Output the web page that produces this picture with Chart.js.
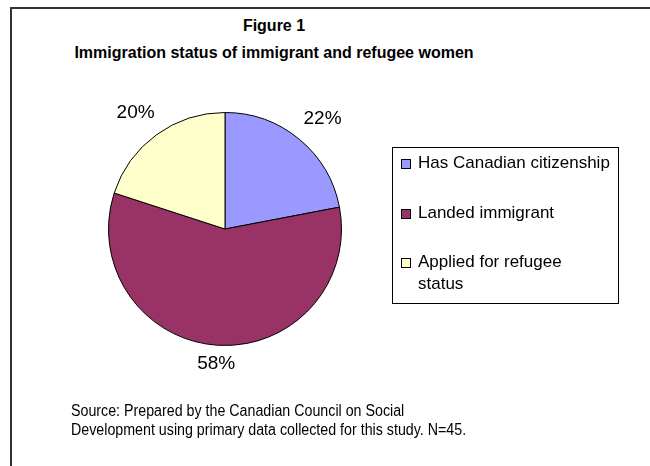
<!DOCTYPE html>
<html>
<head>
<meta charset="utf-8">
<script src="https://cdn.jsdelivr.net/npm/chart.js@4.4.1/dist/chart.umd.min.js"></script>
<style>
  body { margin: 0; background: #fff; font-family: "Liberation Sans", Arial, sans-serif; }
  #wrap { position: relative; width: 650px; height: 466px; overflow: hidden; }
  #frame { position: absolute; left: 10px; top: 7px; width: 700px; height: 500px;
           border-left: 2px solid #333; border-top: 2px solid #333; }
  #title { position: absolute; left: 0; width: 548px; top: 12px; text-align: center;
           font-weight: bold; font-size: 16px; line-height: 27px; }
  #legend { position: absolute; left: 392px; top: 147px; width: 225px; height: 155px;
            border: 1px solid #000; font-size: 17px; }
  .item { position: absolute; left: 25px; width: 185px; line-height: 22px; }
  .sq { position: absolute; left: -17px; top: 7px; width: 8px; height: 8px; border: 1px solid #000; }
  #source { position: absolute; left: 71px; top: 401px; font-size: 16px; line-height: 19px;
            transform: scaleX(0.89); transform-origin: left top; white-space: nowrap; }
  canvas { position: absolute; left: 0; top: 0; }
</style>
</head>
<body>
<div id="wrap">
  <div id="frame"></div>
  <div id="title">Figure 1<br>Immigration status of immigrant and refugee women</div>
  <canvas id="ourChart" width="650" height="466"></canvas>
  <div id="legend"></div>
  <div id="source">Source: Prepared by the Canadian Council on Social<br>Development using primary data collected for this study. N=45.</div>
</div>
<script>
const categories = ['Has Canadian citizenship', 'Landed immigrant', 'Applied for refugee status'];
const shares = [22, 58, 20];
const colours = ['#9999ff', '#993366', '#ffffcc'];

// legend rows, text tops inside the box
const legendTops = [4, 54, 103];
let legendBox = document.getElementById('legend');
categories.forEach((name, i) => {
    let row = document.createElement('div');
    row.className = 'item';
    row.style.top = legendTops[i] + 'px';
    if (i === 0) row.style.whiteSpace = 'nowrap';
    row.innerHTML = '<span class="sq" style="background:' + colours[i] + '"></span>' + name;
    legendBox.appendChild(row);
});

// percentage labels just outside each slice
const outsideLabels = {
    id: 'outsideLabels',
    afterDatasetsDraw(chart) {
        const ctx = chart.ctx;
        const meta = chart.getDatasetMeta(0);
        ctx.save();
        ctx.font = '19px "Liberation Sans", Arial, sans-serif';
        ctx.fillStyle = '#000';
        ctx.textAlign = 'center';
        ctx.textBaseline = 'middle';
        meta.data.forEach((arc, i) => {
            const p = arc.getProps(['x', 'y', 'startAngle', 'endAngle', 'outerRadius'], true);
            const mid = (p.startAngle + p.endAngle) / 2;
            const text = shares[i] + '%';
            const w = ctx.measureText(text).width;
            const c = Math.cos(mid), s = Math.sin(mid);
            const d = p.outerRadius + 9 + 5 * Math.abs(c) + Math.abs(c) * w / 2 + Math.abs(s) * 8;
            ctx.fillText(text, p.x + c * (d + 6), p.y + s * d + 4 * Math.abs(c));
        });
        ctx.restore();
    }
};

const chartElement = new Chart(document.getElementById('ourChart'), {
    type: 'pie',
    data: {
        labels: categories,
        datasets: [{
            data: shares,
            backgroundColor: colours,
            borderColor: '#000',
            borderWidth: 1
        }]
    },
    options: {
        responsive: false,
        animation: false,
        layout: { padding: { left: 108, top: 112, right: 308, bottom: 120 } },
        plugins: {
            legend: { display: false },
            title: { display: false },
            tooltip: { enabled: false }
        }
    },
    plugins: [outsideLabels]
});
</script>
</body>
</html>
